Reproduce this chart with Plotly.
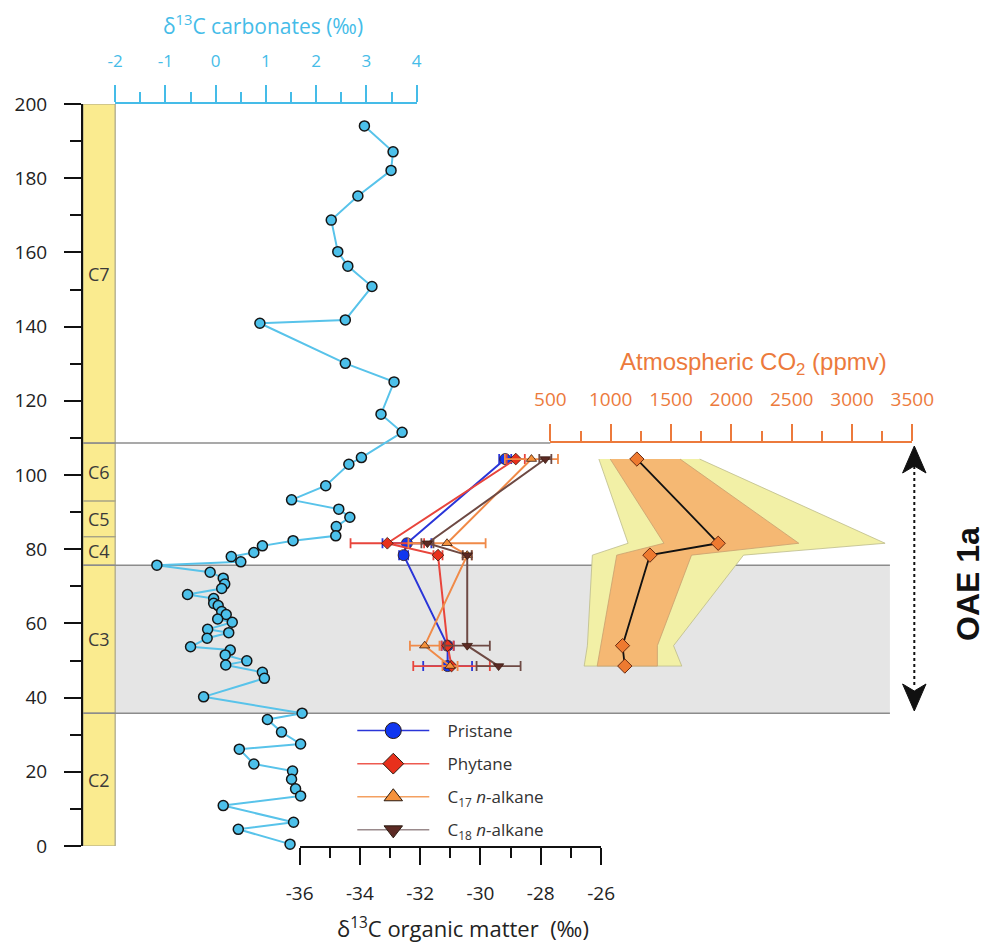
import plotly.graph_objects as go

# ---------------- DATA ----------------
# Carbonate d13C (top axis) vs depth
carb_depth = [194.1, 187.1, 182.1, 175.2, 168.7, 160.2, 156.3, 150.8, 141.8, 140.9,
              130.1, 125.1, 116.4, 111.5, 104.7, 102.9, 97.1, 93.3, 90.8, 88.6,
              86.1, 83.6, 82.3, 80.9, 79.1, 78.0, 76.6, 75.7, 73.8, 72.2,
              70.6, 69.4, 67.8, 66.7, 65.4, 64.8, 63.2, 62.4, 61.2, 60.3,
              58.4, 57.5, 56.0, 53.7, 52.8, 51.5, 49.9, 48.8, 46.8, 45.2,
              40.2, 35.8, 34.1, 30.7, 27.5, 26.1, 22.1, 20.2, 18.0, 15.4,
              13.5, 10.9, 6.4, 4.5, 0.5]
carb_d13c = [2.96, 3.53, 3.49, 2.83, 2.30, 2.43, 2.63, 3.11, 2.58, 0.88,
             2.58, 3.55, 3.29, 3.71, 2.90, 2.65, 2.19, 1.51, 2.45, 2.67,
             2.40, 2.39, 1.54, 0.93, 0.76, 0.31, 0.50, -1.17, -0.11, 0.15,
             0.18, 0.12, -0.56, -0.04, -0.04, 0.05, 0.12, 0.21, 0.04, 0.33,
             -0.16, 0.26, -0.17, -0.50, 0.29, 0.19, 0.62, 0.20, 0.93, 0.97,
             -0.24, 1.72, 1.03, 1.31, 1.69, 0.47, 0.76, 1.53, 1.51, 1.59,
             1.69, 0.15, 1.55, 0.45, 1.48]

# Compound-specific d13C (bottom axis)
cs_depth = [104.3, 81.6, 78.4, 54.0, 48.5]
pristane = [-29.18, -32.44, -32.55, -31.09, -31.09]
pristane_err = [0.2, 0.81, 0.15, 0.2, 0.81]
phytane = [-28.83, -33.09, -31.41, -31.09, -30.96]
phytane_err = [0.3, 1.22, 0.15, 0.2, 1.27]
c17 = [-28.31, -31.11, -30.44, -31.85, -31.01]
c17_err = [0.88, 1.28, 0.15, 0.49, 0.25]
c18 = [-27.85, -31.76, -30.44, -30.44, -29.40]
c18_err = [0.2, 0.2, 0.15, 0.75, 0.73]

# Atmospheric CO2 (ppmv)
co2_depth = [104.3, 81.6, 78.4, 54.0, 48.5]
co2 = [1217, 1891, 1325, 1098, 1117]
co2_inner_lo = [996, 1441, 1050, 915, 888]
co2_inner_hi = [1575, 2559, 1670, 1387, 1387]
co2_outer_lo = [902, 1144, 848, 807, 780]
co2_outer_hi = [1737, 3274, 2101, 1521, 1589]

# Stratigraphic units
unit_names = ["C2", "C3", "C4", "C5", "C6", "C7"]
unit_bottom = [0, 35.8, 75.7, 83.4, 93.0, 108.6]
unit_top = [35.8, 75.7, 83.4, 93.0, 108.6, 200]
oae_bottom, oae_top = 35.8, 75.7

y_ticks = list(range(0, 201, 20))
carb_ticks = [-2, -1, 0, 1, 2, 3, 4]
om_ticks = [-36, -34, -32, -30, -28, -26]
co2_ticks = [500, 1000, 1500, 2000, 2500, 3000, 3500]

# ---------------- LAYOUT HELPERS ----------------
W, H = 989, 947
L, R, T, B = 82, 0, 104, 101
PW, PH = W - L - R, H - T - B


def fx(px):
    return (px - L) / PW


def fy(py):
    return (H - B - py) / PH


FONT = "Open Sans"
BLUE_AX = "#45BCE8"
ORANGE_AX = "#EC7A3C"

fig = go.Figure()

# CO2 uncertainty bands
fig.add_trace(go.Scatter(
    x=co2_outer_lo + co2_outer_hi[::-1], y=co2_depth + co2_depth[::-1],
    xaxis="x3", yaxis="y", fill="toself", fillcolor="#F2F0A6",
    line=dict(color="#BDBB8A", width=0.8), mode="lines", showlegend=False, hoverinfo="skip"))
fig.add_trace(go.Scatter(
    x=co2_inner_lo + co2_inner_hi[::-1], y=co2_depth + co2_depth[::-1],
    xaxis="x3", yaxis="y", fill="toself", fillcolor="#F5B873",
    line=dict(color="#C8A070", width=0.8), mode="lines", showlegend=False, hoverinfo="skip"))
fig.add_trace(go.Scatter(
    x=co2, y=co2_depth, xaxis="x3", yaxis="y", mode="lines+markers",
    line=dict(color="#111111", width=1.8),
    marker=dict(symbol="diamond", size=11, color="#EE7A30", line=dict(color="#6a2a10", width=1)),
    showlegend=False, cliponaxis=False))

# Carbonate curve
fig.add_trace(go.Scatter(
    x=carb_d13c, y=carb_depth, xaxis="x", yaxis="y", mode="lines+markers",
    line=dict(color="#58C3EA", width=2),
    marker=dict(size=10, color="#4CC0EA", line=dict(color="#151515", width=1.5)),
    showlegend=False, cliponaxis=False))

series = [
    ("Pristane", pristane, pristane_err, "#2A35D8", "#1036F0", "circle"),
    ("Phytane", phytane, phytane_err, "#E8453C", "#E8301C", "diamond"),
    ("C<sub>17</sub> <i>n</i>-alkane", c17, c17_err, "#F08A48", "#F5923C", "triangle-up"),
    ("C<sub>18</sub> <i>n</i>-alkane", c18, c18_err, "#6E4A44", "#5C2A24", "triangle-down"),
]
legend_line = ["#2A35D8", "#EE5A50", "#F4A060", "#9A8A8C"]
for i, (name, vals, errs, lc, mc, sym) in enumerate(series):
    fig.add_trace(go.Scatter(
        x=vals, y=cs_depth, xaxis="x2", yaxis="y", mode="lines+markers",
        line=dict(color=lc, width=2),
        marker=dict(symbol=sym, size=11 if i == 0 else 9, color=mc, line=dict(color="#3a1a10", width=0.8)),
        error_x=dict(type="data", array=errs, color=lc, thickness=1.8, width=5),
        showlegend=False, cliponaxis=False))
for i, (name, vals, errs, lc, mc, sym) in enumerate(series):
    fig.add_trace(go.Scatter(
        x=[None], y=[None], xaxis="x2", yaxis="y", mode="lines+markers",
        name="\u00a0\u00a0\u00a0" + name,
        legendgroup=f"g{i}",
        line=dict(color=legend_line[i], width=1.5),
        marker=dict(symbol=sym, size=20, color=mc, line=dict(color="#2a1a10", width=1))))

# ---------------- SHAPES ----------------
shapes = []
# OAE grey box
shapes.append(dict(type="rect", xref="paper", yref="y", x0=fx(116), x1=fx(910),
                   y0=oae_bottom, y1=oae_top, fillcolor="#E5E5E5", line=dict(width=0), layer="below"))
# stratigraphic column
for nm, b0, b1 in zip(unit_names, unit_bottom, unit_top):
    shapes.append(dict(type="rect", xref="paper", yref="y", x0=fx(83), x1=fx(116),
                       y0=b0, y1=b1, fillcolor="#FAEB8F", line=dict(color="#A8A486", width=1.2),
                       layer="below"))
# horizontal boundary lines
shapes.append(dict(type="line", xref="paper", yref="y", x0=fx(82), x1=fx(910),
                   y0=oae_bottom, y1=oae_bottom, line=dict(color="#8C8C8C", width=1.5), layer="below"))
shapes.append(dict(type="line", xref="paper", yref="y", x0=fx(82), x1=fx(910),
                   y0=oae_top, y1=oae_top, line=dict(color="#8C8C8C", width=1.5), layer="below"))
shapes.append(dict(type="line", xref="paper", yref="y", x0=fx(82), x1=fx(562),
                   y0=unit_bottom[-1], y1=unit_bottom[-1], line=dict(color="#8C8C8C", width=1.5),
                   layer="below"))
# OAE 1a double arrow
ax_x = 935
shapes.append(dict(type="line", xref="paper", yref="paper", x0=fx(ax_x), x1=fx(ax_x),
                   y0=fy(466), y1=fy(688), line=dict(color="#111", width=2, dash="dot")))


def tri(pts):
    return "M " + " L ".join(f"{fx(a):.5f},{fy(b):.5f}" for a, b in pts) + " Z"


shapes.append(dict(type="path", xref="paper", yref="paper",
                   path=tri([(ax_x, 446), (ax_x + 12, 473), (ax_x, 466), (ax_x - 12, 473)]),
                   fillcolor="#111", line=dict(color="#111", width=1)))
shapes.append(dict(type="path", xref="paper", yref="paper",
                   path=tri([(ax_x, 711), (ax_x + 12, 684), (ax_x, 691), (ax_x - 12, 684)]),
                   fillcolor="#111", line=dict(color="#111", width=1)))

# ---------------- ANNOTATIONS ----------------
ann = []
for nm, b0, b1 in zip(unit_names, unit_bottom, unit_top):
    ann.append(dict(x=fx(99.5), y=(b0 + b1) / 2, xref="paper", yref="y", text=nm, showarrow=False,
                    xanchor="center", yanchor="middle",
                    font=dict(family=FONT, size=18, color="#3a3a3a")))
ann.append(dict(x=fx(268), y=fy(25), xref="paper", yref="paper",
                text="δ<sup>13</sup>C carbonates (‰)", showarrow=False,
                xanchor="center", yanchor="middle",
                font=dict(family=FONT, size=21, color=BLUE_AX)))
ann.append(dict(x=fx(472), y=fy(927), xref="paper", yref="paper",
                text="δ<sup>13</sup>C organic matter  (‰)", showarrow=False,
                xanchor="center", yanchor="middle",
                font=dict(family=FONT, size=22, color="#222")))
ann.append(dict(x=fx(770), y=fy(363), xref="paper", yref="paper",
                text="Atmospheric CO<sub>2</sub> (ppmv)", showarrow=False,
                xanchor="center", yanchor="middle",
                font=dict(family="Liberation Sans", size=24, color=ORANGE_AX)))
ann.append(dict(x=fx(990), y=fy(584), xref="paper", yref="paper",
                text="<b>OAE 1a</b>", showarrow=False, textangle=-90,
                xanchor="center", yanchor="middle",
                font=dict(family="Liberation Sans", size=32, color="#111")))


def labels(vals):
    return [str(v) for v in vals]


fig.update_layout(
    width=W, height=H, autosize=False,
    margin=dict(l=L, r=R, t=T, b=B, pad=0),
    plot_bgcolor="rgba(0,0,0,0)", paper_bgcolor="white",
    font=dict(family=FONT, color="#222"),
    shapes=shapes, annotations=ann,
    showlegend=True,
    legend=dict(x=fx(359), y=fy(713), xanchor="left", yanchor="top",
                bgcolor="rgba(0,0,0,0)", itemwidth=72, tracegroupgap=8,
                font=dict(family=FONT, size=17, color="#333")),
    xaxis=dict(domain=[fx(116), fx(425)], range=[-2, 4], side="top", anchor="y",
               tickvals=carb_ticks, ticktext=labels(carb_ticks),
               ticks="outside", ticklen=17, tickwidth=2, tickcolor=BLUE_AX,
               showline=True, linecolor=BLUE_AX, linewidth=2, showgrid=False, zeroline=False,
               tickfont=dict(family=FONT, size=17, color=BLUE_AX), ticklabelstandoff=11,
               minor=dict(dtick=0.5, ticks="outside", ticklen=10, tickwidth=2, tickcolor=BLUE_AX, showgrid=False)),
    xaxis2=dict(domain=[fx(305), fx(614)], range=[-36, -26], side="bottom", anchor="y",
                tickvals=om_ticks, ticktext=labels(om_ticks),
                ticks="outside", ticklen=17, tickwidth=2, tickcolor="#111",
                showline=True, linecolor="#111", linewidth=2, showgrid=False, zeroline=False,
                tickfont=dict(family=FONT, size=19, color="#222"), ticklabelstandoff=12,
                minor=dict(dtick=1, ticks="outside", ticklen=10, tickwidth=2, tickcolor="#111", showgrid=False)),
    xaxis3=dict(domain=[fx(562), fx(933)], range=[500, 3500], side="top", anchor="free",
                position=fy(441.5),
                tickvals=co2_ticks, ticktext=labels(co2_ticks),
                ticks="outside", ticklen=17, tickwidth=2, tickcolor=ORANGE_AX,
                showline=True, linecolor=ORANGE_AX, linewidth=2, showgrid=False, zeroline=False,
                tickfont=dict(family=FONT, size=19, color=ORANGE_AX), ticklabelstandoff=10,
                minor=dict(dtick=250, ticks="outside", ticklen=10, tickwidth=2, tickcolor=ORANGE_AX, showgrid=False)),
    yaxis=dict(domain=[0, 1], range=[0, 200], anchor="free", position=0,
               tickvals=y_ticks, ticktext=labels(y_ticks),
               ticks="outside", ticklen=17, tickwidth=2, tickcolor="#111",
               showline=True, linecolor="#111", linewidth=2, showgrid=False, zeroline=False,
               tickfont=dict(family=FONT, size=19, color="#222"), ticklabelstandoff=13,
               minor=dict(dtick=10, ticks="outside", ticklen=11, tickwidth=2, tickcolor="#111", showgrid=False)),
)

fig.write_html("out.html")
